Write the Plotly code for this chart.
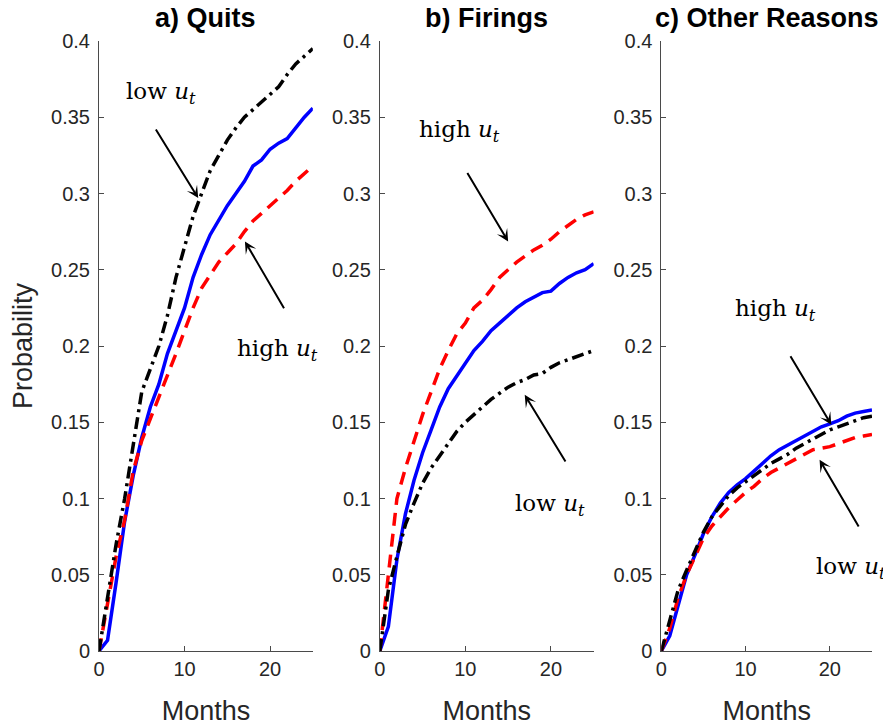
import plotly.graph_objects as go

months = list(range(26))

# a) Quits
quits_avg = [0, 0.007, 0.045, 0.085, 0.115, 0.14, 0.16, 0.175, 0.195, 0.21, 0.225, 0.245, 0.26,
             0.273, 0.283, 0.292, 0.30, 0.308, 0.318, 0.322, 0.329, 0.333, 0.336, 0.343, 0.35, 0.356]
quits_high = [0, 0.032, 0.062, 0.086, 0.118, 0.138, 0.152, 0.166, 0.18, 0.195, 0.21, 0.225, 0.238,
              0.247, 0.255, 0.261, 0.267, 0.275, 0.282, 0.287, 0.292, 0.297, 0.302, 0.308, 0.313, 0.318]
quits_low = [0, 0.035, 0.07, 0.10, 0.135, 0.17, 0.185, 0.20, 0.22, 0.245, 0.265, 0.285, 0.30,
             0.315, 0.325, 0.335, 0.343, 0.35, 0.355, 0.36, 0.365, 0.37, 0.378, 0.385, 0.39, 0.395]

# b) Firings
fir_avg = [0, 0.016, 0.06, 0.09, 0.112, 0.13, 0.145, 0.16, 0.172, 0.18, 0.188, 0.197, 0.203,
           0.21, 0.215, 0.22, 0.225, 0.229, 0.232, 0.235, 0.236, 0.241, 0.245, 0.248, 0.25, 0.254]
fir_high = [0, 0.05, 0.10, 0.12, 0.137, 0.155, 0.17, 0.185, 0.197, 0.208, 0.215, 0.225, 0.23,
            0.237, 0.245, 0.25, 0.255, 0.259, 0.263, 0.266, 0.27, 0.275, 0.279, 0.283, 0.286, 0.288]
fir_low = [0, 0.04, 0.062, 0.083, 0.097, 0.11, 0.12, 0.128, 0.137, 0.144, 0.15, 0.155, 0.16,
           0.165, 0.169, 0.173, 0.176, 0.178, 0.181, 0.182, 0.186, 0.189, 0.191, 0.193, 0.195, 0.197]

# c) Other Reasons
oth_avg = [0, 0.01, 0.03, 0.05, 0.063, 0.077, 0.088, 0.097, 0.104, 0.109, 0.113, 0.118, 0.123,
           0.128, 0.132, 0.135, 0.138, 0.141, 0.144, 0.147, 0.149, 0.151, 0.154, 0.156, 0.157, 0.158]
oth_high = [0, 0.015, 0.035, 0.05, 0.062, 0.074, 0.082, 0.088, 0.094, 0.099, 0.104, 0.108, 0.113,
            0.117, 0.12, 0.123, 0.126, 0.129, 0.132, 0.133, 0.134, 0.136, 0.138, 0.14, 0.141, 0.142]
oth_low = [0, 0.02, 0.04, 0.053, 0.065, 0.078, 0.088, 0.095, 0.102, 0.107, 0.111, 0.115, 0.119,
           0.123, 0.126, 0.129, 0.133, 0.136, 0.139, 0.142, 0.145, 0.147, 0.149, 0.151, 0.153, 0.154]

titles = ["a) Quits", "b) Firings", "c) Other Reasons"]
yticks = [0, 0.05, 0.1, 0.15, 0.2, 0.25, 0.3, 0.35, 0.4]
yticklabels = ["0", "0.05", "0.1", "0.15", "0.2", "0.25", "0.3", "0.35", "0.4"]
xticks = [0, 10, 20]

# page body has an 8px margin; figure is sized to fill the rest of the 891x726 window
OFF = 8
W, H = 891 - OFF, 726 - OFF
ML, MR, MT, MB = 99 - OFF, 18.5, 41.3 - OFF, 74.7
PW, PH = W - ML - MR, H - MT - MB
panels_px = [(99 - OFF, 313 - OFF), (380 - OFF, 594 - OFF), (661.7 - OFF, 872.5 - OFF)]

panel_data = [(quits_avg, quits_high, quits_low),
              (fir_avg, fir_high, fir_low),
              (oth_avg, oth_high, oth_low)]

fig = go.Figure()
axis_col = "#4a4a4a"
sans = "Liberation Sans, Arial, sans-serif"
tick_font = dict(family=sans, size=20, color="#262626")
label_font = dict(family=sans, size=27, color="#262626")

for i, (avg, high, low) in enumerate(panel_data):
    xa = "x" if i == 0 else f"x{i+1}"
    ya = "y" if i == 0 else f"y{i+1}"
    fig.add_trace(go.Scatter(x=months, y=avg, mode="lines", xaxis=xa, yaxis=ya,
                             line=dict(color="#0000ff", width=3.5), showlegend=False))
    fig.add_trace(go.Scatter(x=months, y=high, mode="lines", xaxis=xa, yaxis=ya,
                             line=dict(color="#ff0000", width=3.5, dash="13px,8px"), showlegend=False))
    fig.add_trace(go.Scatter(x=months, y=low, mode="lines", xaxis=xa, yaxis=ya,
                             line=dict(color="#000000", width=3.5, dash="12px,5px,3px,5px"),
                             showlegend=False))

layout = dict(width=W, height=H, margin=dict(l=ML, r=MR, t=MT, b=MB, autoexpand=False),
              plot_bgcolor="white", paper_bgcolor="white", showlegend=False)

for i, (x0, x1) in enumerate(panels_px):
    sx = "" if i == 0 else str(i + 1)
    layout["xaxis" + sx] = dict(domain=[(x0 - ML) / PW, (x1 - ML) / PW], range=[0, 25],
                                anchor="y" + sx, automargin=False,
                                tickvals=xticks, ticks="inside", ticklen=5, tickcolor=axis_col,
                                showline=True, linecolor=axis_col, linewidth=1,
                                showgrid=False, zeroline=False, tickfont=tick_font,
                                title=dict(text="Months", font=label_font, standoff=23))
    layout["yaxis" + sx] = dict(domain=[0, 1], range=[0, 0.4], anchor="x" + sx, automargin=False,
                                tickvals=yticks, ticktext=yticklabels, ticks="inside", ticklen=5,
                                tickcolor=axis_col, showline=True, linecolor=axis_col, linewidth=1,
                                showgrid=False, zeroline=False, tickfont=tick_font,
                                ticklabelstandoff=4)
layout["yaxis"]["title"] = dict(text="Probability", font=label_font, standoff=15)
fig.update_layout(**layout)

# titles
for i, (x0, x1) in enumerate(panels_px):
    fig.add_annotation(text="<b>" + titles[i] + "</b>", xref="paper", yref="paper",
                       x=((x0 + x1) / 2 - ML) / PW, y=(H - MB - (18 - OFF)) / PH,
                       xanchor="center", yanchor="middle", showarrow=False, borderpad=0,
                       font=dict(family=sans, size=27, color="#000000"))

low_txt = "low <i>u</i><sub><i>t</i></sub>"
high_txt = "high <i>u</i><sub><i>t</i></sub>"
serif = dict(family="DejaVu Serif, Liberation Serif, serif", size=23, color="#000000")

# (panel, text, text x, text y, arrow tail x, tail y, tip x, tip y) in data units
notes = [
    (0, low_txt, 7.24, 0.366, 6.54, 0.343, 11.6, 0.297),
    (0, high_txt, 20.9, 0.1976, 21.73, 0.2238, 17.06, 0.2686),
    (1, high_txt, 9.35, 0.341, 10.13, 0.3145, 15.0, 0.2686),
    (1, low_txt, 19.86, 0.0959, 21.81, 0.1233, 16.94, 0.168),
    (2, high_txt, 13.56, 0.2238, 15.22, 0.1943, 20.17, 0.1484),
    (2, low_txt, 22.45, 0.0546, 23.52, 0.0807, 18.78, 0.1254),
]
for p, txt, tx, ty, ax, ay, hx, hy in notes:
    xr = "x" if p == 0 else f"x{p+1}"
    yr = "y" if p == 0 else f"y{p+1}"
    fig.add_annotation(text=txt, x=tx, y=ty, xref=xr, yref=yr, showarrow=False,
                       xanchor="center", yanchor="middle", font=serif)
    fig.add_annotation(text="", x=hx, y=hy, xref=xr, yref=yr, ax=ax, ay=ay, axref=xr, ayref=yr,
                       showarrow=True, arrowhead=3, arrowsize=1.0, arrowwidth=2, arrowcolor="#000000")

fig.write_html("out.html")
